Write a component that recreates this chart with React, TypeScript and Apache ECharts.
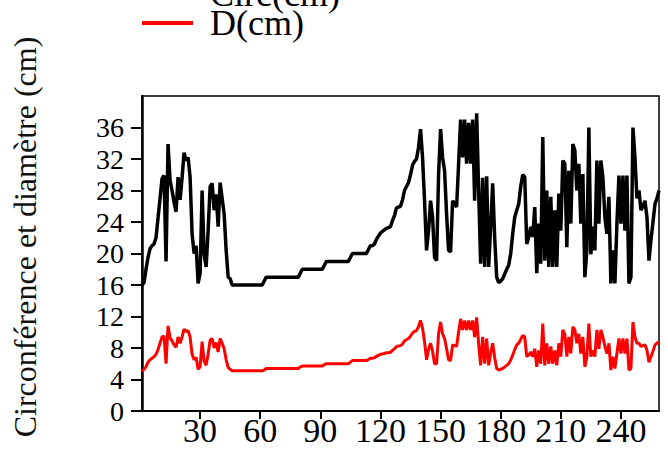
import React, { useEffect, useRef } from "react";
import * as echarts from "echarts";

// x categories: tree / sample index 1..259
const categories: string[] = Array.from({ length: 259 }, (_, i) => String(i + 1));
const xTickLabels: string[] = ["30", "60", "90", "120", "150", "180", "210", "240"];
const yTickValues: number[] = [0, 4, 8, 12, 16, 20, 24, 28, 32, 36];

const seriesNames: string[] = ["Circ(cm)", "D(cm)"];

// Circumference (black)
const circumference: number[] = [
  16, 16.3, 18, 19.5, 20.6, 21, 21.2, 22, 24.5, 27,
  29.5, 29.9, 19, 33.9, 29.3, 28, 26.5, 25.3, 29.7, 26.8,
  29.6, 32.8, 31.8, 32.2, 29.7, 22.5, 20, 21, 16.2, 17.5,
  28, 19.9, 18.3, 22.9, 28.5, 28.9, 25.5, 27.5, 23.4, 29,
  27, 25, 20.4, 17, 16.8, 16, 16, 16, 16, 16,
  16, 16, 16, 16, 16, 16, 16, 16, 16, 16,
  16, 16.5, 17, 17, 17, 17, 17, 17, 17, 17,
  17, 17, 17, 17, 17, 17, 17, 17, 17, 17.5,
  18, 18, 18, 18, 18, 18, 18, 18, 18, 18,
  18, 18.5, 19, 19, 19, 19, 19, 19, 19, 19,
  19, 19, 19, 19, 19.5, 20, 20, 20, 20, 20,
  20, 20, 20, 20.5, 21, 21, 21.2, 21.8, 22.2, 22.6,
  22.8, 23, 23.2, 23.3, 23.4, 24.2, 24.8, 25.8, 25.9, 26,
  26.8, 28, 28.5, 29, 30, 31.2, 31.7, 32, 33.5, 35.8,
  32.2, 26.7, 20.4, 22.9, 26.7, 24.6, 19.5, 19.1, 30, 35.8,
  32.2, 30.5, 25, 20.4, 20.2, 26.7, 26.3, 25.9, 31.4, 37,
  32.2, 37, 31.4, 36.6, 31.4, 37, 26.7, 37.8, 28, 18.7,
  29.6, 18.3, 29.8, 18.3, 23.4, 28.9, 22, 17, 16.3, 16.5,
  16.8, 17.4, 18, 18.5, 20, 22.5, 24.6, 25.5, 26.3, 28.5,
  30, 29.7, 21.2, 22.1, 23.4, 22.1, 25.9, 17.5, 23.8, 18.7,
  34.8, 19.1, 28, 18.3, 27.2, 18.3, 25.5, 18.3, 27.6, 22.9,
  31.8, 31.4, 20.8, 30.5, 23.8, 33.9, 33.1, 28, 31.4, 23.8,
  30.1, 17, 20.4, 36, 19.9, 23.4, 20.4, 31.8, 23.8, 31.8,
  29.7, 24.6, 22.5, 27.2, 16.2, 20.4, 16.2, 23.8, 29.9, 23.8,
  29.9, 22.9, 29.9, 16.2, 17, 36, 32.2, 27, 28, 25.5,
  26, 26.7, 24.6, 19.1, 21.7, 24, 26.3, 27, 28,
];

// Diameter (red)
const diameter: number[] = [
  5.0, 5.3, 5.6, 6.2, 6.5, 6.7, 6.9, 7.2, 7.8, 8.6,
  9.4, 9.5, 6.0, 10.8, 9.3, 8.9, 8.4, 8.1, 9.4, 8.6,
  9.4, 10.4, 10.1, 10.2, 9.4, 7.2, 6.5, 6.8, 5.3, 5.6,
  8.8, 6.3, 5.8, 7.2, 9.0, 9.2, 8.0, 8.7, 7.5, 9.2,
  8.6, 7.9, 6.5, 5.5, 5.3, 5.1, 5.1, 5.1, 5.1, 5.1,
  5.1, 5.1, 5.1, 5.1, 5.1, 5.1, 5.1, 5.1, 5.1, 5.1,
  5.1, 5.2, 5.4, 5.4, 5.4, 5.4, 5.4, 5.4, 5.4, 5.4,
  5.4, 5.4, 5.4, 5.4, 5.4, 5.4, 5.4, 5.4, 5.4, 5.6,
  5.7, 5.7, 5.7, 5.7, 5.7, 5.7, 5.7, 5.7, 5.7, 5.7,
  5.7, 5.9, 6.0, 6.0, 6.0, 6.0, 6.0, 6.0, 6.0, 6.0,
  6.0, 6.0, 6.0, 6.0, 6.2, 6.4, 6.4, 6.4, 6.4, 6.4,
  6.4, 6.4, 6.4, 6.55, 6.7, 6.7, 6.75, 6.95, 7.05, 7.2,
  7.25, 7.3, 7.4, 7.4, 7.45, 7.7, 7.9, 8.2, 8.25, 8.3,
  8.5, 8.9, 9.05, 9.2, 9.5, 9.9, 10.1, 10.2, 10.7, 11.5,
  10.5, 8.8, 6.5, 7.8, 8.6, 7.6, 6.0, 6.0, 9.8, 11.3,
  9.8, 9.2, 7.9, 6.5, 6.4, 8.4, 8.3, 8.2, 10.0, 11.7,
  10.3, 11.5, 10.3, 11.5, 10.3, 11.5, 9.4, 11.9, 8.5, 5.8,
  9.4, 6.0, 9.2, 5.8, 7.4, 8.6, 6.8, 5.4, 5.2, 5.3,
  5.4, 5.6, 5.8, 6.0, 6.5, 7.1, 7.8, 8.4, 8.6, 9.1,
  9.6, 9.4, 6.9, 7.1, 7.5, 6.9, 7.9, 5.6, 7.7, 6.0,
  11.1, 5.8, 8.6, 6.0, 8.2, 6.0, 7.7, 5.8, 8.6, 6.9,
  10.3, 9.8, 6.9, 9.4, 7.3, 10.7, 10.3, 8.6, 9.8, 7.3,
  9.4, 5.6, 6.9, 11.1, 6.9, 7.7, 6.9, 10.3, 7.9, 10.3,
  9.4, 8.2, 7.3, 8.6, 5.2, 6.9, 5.4, 7.3, 9.2, 7.3,
  9.2, 7.3, 9.2, 5.2, 5.4, 11.3, 9.4, 8.6, 8.6, 8.2,
  8.3, 8.4, 7.7, 6.2, 6.9, 7.6, 8.4, 8.6, 8.8,
];

const yAxisTitle = "Circonférence et diamètre (cm)";
const FONT = "'Liberation Serif', 'DejaVu Serif', serif";

export default function App() {
  const ref = useRef<HTMLDivElement>(null);

  useEffect(() => {
    if (!ref.current) return;
    const chart = echarts.init(ref.current, null, { renderer: "svg" });
    const showTick = (_idx: number, value: string) => xTickLabels.indexOf(value) >= 0;
    const legendBase = {
      orient: "horizontal",
      left: 142,
      itemWidth: 51,
      itemHeight: 4,
      icon: "rect",
      padding: 0,
      textStyle: {
        fontFamily: FONT,
        fontSize: 36,
        color: "#000",
        padding: [0, 0, 0, 12],
      },
    };
    chart.setOption({
      animation: false,
      backgroundColor: "#ffffff",
      grid: {
        left: 142,
        right: 9,
        top: 96,
        bottom: 39,
        show: true,
        borderColor: "#000",
        borderWidth: 1.5,
        backgroundColor: "transparent",
      },
      legend: [
        { ...legendBase, top: -24, data: [seriesNames[0]] },
        { ...legendBase, top: 5, data: [seriesNames[1]] },
      ],
      xAxis: {
        type: "category",
        data: categories,
        boundaryGap: false,
        axisLine: { show: true, lineStyle: { color: "#000", width: 2 } },
        axisTick: {
          show: true,
          interval: showTick,
          length: 8,
          lineStyle: { color: "#000", width: 2 },
        },
        axisLabel: {
          interval: showTick,
          fontFamily: FONT,
          fontSize: 34,
          lineHeight: 34,
          color: "#000",
          margin: 2,
        },
        splitLine: { show: false },
      },
      yAxis: {
        type: "value",
        min: 0,
        max: 40,
        interval: 4,
        axisLine: { show: true, lineStyle: { color: "#000", width: 2.5 } },
        axisTick: {
          show: true,
          length: 11,
          customValues: yTickValues,
          lineStyle: { color: "#000", width: 2 },
        },
        axisLabel: {
          customValues: yTickValues,
          formatter: (v: number) => (v >= 40 ? "" : String(v)),
          fontFamily: FONT,
          fontSize: 28,
          color: "#000",
          margin: 18,
        },
        splitLine: { show: false },
      },
      series: [
        {
          name: seriesNames[0],
          type: "line",
          data: circumference,
          symbol: "none",
          showSymbol: false,
          lineStyle: { color: "#000000", width: 3.5 },
          itemStyle: { color: "#000000" },
        },
        {
          name: seriesNames[1],
          type: "line",
          data: diameter,
          symbol: "none",
          showSymbol: false,
          lineStyle: { color: "#ff0000", width: 3 },
          itemStyle: { color: "#ff0000" },
        },
      ],
      graphic: [
        {
          type: "text",
          x: 25,
          y: 237,
          rotation: Math.PI / 2,
          style: {
            text: yAxisTitle,
            fontFamily: FONT,
            fontSize: 32,
            fill: "#111",
            align: "center",
            verticalAlign: "middle",
            textAlign: "center",
            textVerticalAlign: "middle",
          },
        },
      ],
    });
    return () => chart.dispose();
  }, []);

  return (
    <div
      ref={ref}
      style={{ position: "fixed", left: 0, top: 0, width: 668, height: 450 }}
    />
  );
}
